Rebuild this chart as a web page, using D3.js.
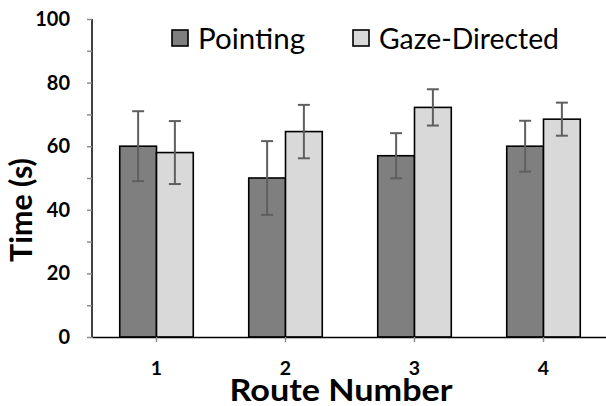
<!DOCTYPE html>
<html>
<head>
<meta charset="utf-8">
<script src="https://cdn.jsdelivr.net/npm/d3@7"></script>
<style>
  html, body { margin: 0; padding: 0; background: #fff; }
  svg { display: block; }
  text { font-family: Lato, "Open Sans", sans-serif; }
</style>
</head>
<body>
<svg id="chart" width="606" height="406"></svg>
<script>
// ---- data ----
const routes = ["1", "2", "3", "4"];
const seriesNames = ["Pointing", "Gaze-Directed"];
const pointing = [60, 50, 57, 60];
const pointingErr = [11, 11.6, 7.1, 8];
const gaze = [58, 64.6, 72.2, 68.5];
const gazeErr = [9.9, 8.4, 5.7, 5.2];
const yTicks = [0, 10, 20, 30, 40, 50, 60, 70, 80, 90, 100];
const yTickLabels = [0, 20, 40, 60, 80, 100];

const colors = ["#7f7f7f", "#d9d9d9"];
const values = [pointing, gaze];
const errs = [pointingErr, gazeErr];

const svg = d3.select("#chart");

const y = d3.scaleLinear().domain([0, 100]).range([337, 19]);
const x = d3.scaleBand().domain(routes).range([92, 608]).paddingInner(0.43).paddingOuter(0.215);
const xs = d3.scaleBand().domain(d3.range(seriesNames.length)).range([0, x.bandwidth()]);

// bars
const rows = [];
routes.forEach((r, i) => {
  seriesNames.forEach((s, j) => {
    rows.push({ route: r, s: j, v: values[j][i], e: errs[j][i] });
  });
});

svg.append("g").selectAll("rect").data(rows).join("rect")
  .attr("x", d => x(d.route) + xs(d.s))
  .attr("y", d => y(d.v))
  .attr("width", xs.bandwidth())
  .attr("height", d => y(0) - y(d.v))
  .attr("fill", d => colors[d.s])
  .attr("stroke", "#000")
  .attr("stroke-width", 1.6);

// error bars
const eg = svg.append("g").attr("stroke", "#5f5f5f").attr("stroke-width", 2).attr("fill", "none");
rows.forEach(d => {
  const cx = x(d.route) + xs(d.s) + xs.bandwidth() / 2;
  eg.append("line").attr("x1", cx).attr("x2", cx).attr("y1", y(d.v + d.e)).attr("y2", y(d.v - d.e));
  eg.append("line").attr("x1", cx - 6).attr("x2", cx + 6).attr("y1", y(d.v + d.e)).attr("y2", y(d.v + d.e));
  eg.append("line").attr("x1", cx - 6).attr("x2", cx + 6).attr("y1", y(d.v - d.e)).attr("y2", y(d.v - d.e));
});

// y axis
const yAxis = d3.axisLeft(y).tickValues(yTicks).tickSize(5).tickPadding(17)
  .tickFormat(d => yTickLabels.includes(d) ? d : "");
const gy = svg.append("g").attr("transform", "translate(92,0)").call(yAxis);
gy.select(".domain").attr("stroke", "#000").attr("stroke-width", 1.5).attr("d", `M0,${y(100)}V${y(0)}`);
gy.selectAll(".tick line").attr("stroke", "#8c8c8c").attr("stroke-width", 1.5);
gy.selectAll(".tick text").style("font-family", "Lato, sans-serif").style("font-weight", "bold")
  .style("font-size", "20px").attr("fill", "#000");

// x axis
const xAxis = d3.axisBottom(x).tickSize(5).tickSizeOuter(0).tickPadding(0);
const gx = svg.append("g").attr("transform", `translate(0,${y(0)})`).call(xAxis);
gx.select(".domain").attr("stroke", "#000").attr("stroke-width", 1.5);
gx.selectAll(".tick line").attr("stroke", "#8c8c8c").attr("stroke-width", 1.5);
gx.selectAll(".tick text").style("font-family", "Lato, sans-serif").style("font-weight", "bold")
  .style("font-size", "19.5px").attr("fill", "#000")
  .attr("y", 38).attr("dy", null);

// axis titles
svg.append("text").attr("transform", "translate(32,210) rotate(-90)")
  .attr("text-anchor", "middle").style("font-weight", "bold").style("font-size", "30px")
  .attr("textLength", 104).attr("lengthAdjust", "spacingAndGlyphs")
  .text("Time (s)");
svg.append("text").attr("x", 341).attr("y", 401)
  .attr("text-anchor", "middle").style("font-weight", "bold").style("font-size", "30px")
  .attr("textLength", 223).attr("lengthAdjust", "spacingAndGlyphs")
  .text("Route Number");

// legend
const legendX = [172, 353];
const legendLen = [107, 180];
const lg = svg.append("g");
seriesNames.forEach((name, j) => {
  lg.append("rect").attr("x", legendX[j]).attr("y", 30).attr("width", 16).attr("height", 16)
    .attr("fill", colors[j]).attr("stroke", "#000").attr("stroke-width", 1.6);
  lg.append("text").attr("x", legendX[j] + 26).attr("y", 48.5)
    .style("font-size", "29px").attr("fill", "#000")
    .attr("textLength", legendLen[j]).attr("lengthAdjust", "spacingAndGlyphs")
    .text(name);
});
</script>
</body>
</html>
